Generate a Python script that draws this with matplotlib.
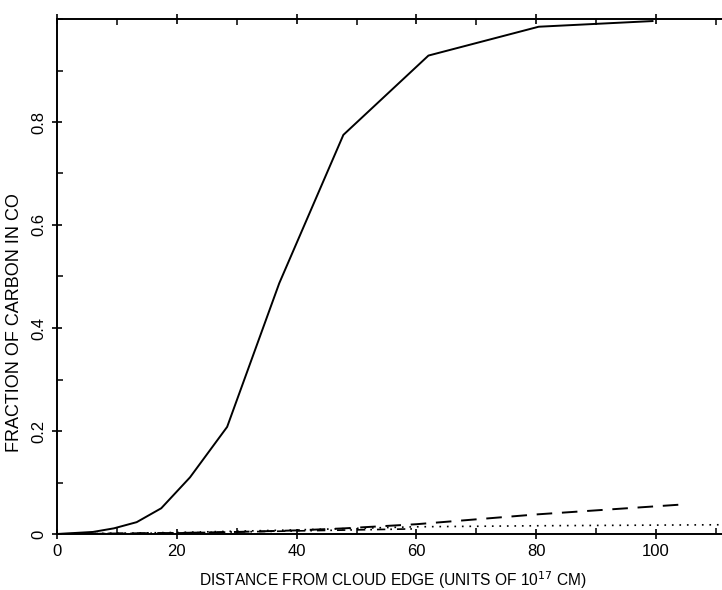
import numpy as np
import matplotlib
matplotlib.use('Agg')
import matplotlib.pyplot as plt
from matplotlib.ticker import MultipleLocator

# fraction of carbon in CO vs distance from cloud edge
x_solid = [0, 6.0, 9.5, 13.3, 17.4, 22.2, 28.4, 37.1, 47.8, 62.0, 80.4, 99.4]
y_solid = [0, 0.004, 0.011, 0.023, 0.050, 0.110, 0.208, 0.487, 0.775, 0.929, 0.985, 0.996]

x_dash = [0, 10, 20, 30, 40, 48, 60, 80, 104]
y_dash = [0, 0.001, 0.002, 0.004, 0.007, 0.011, 0.019, 0.038, 0.057]

x_dot = [0, 20, 40, 60, 80, 112]
y_dot = [0, 0.003, 0.008, 0.014, 0.016, 0.018]

x_dashdot = [0, 20, 40, 60]
y_dashdot = [0, 0.002, 0.006, 0.010]

xticks = [0, 20, 40, 60, 80, 100]
yticks = [0, 0.2, 0.4, 0.6, 0.8]

plt.rcParams['font.family'] = ['Liberation Sans', 'DejaVu Sans']

fig = plt.figure(figsize=(7.22, 5.90), dpi=100)
ax = fig.add_axes([57/722, 56/590, 671/722, 515/590])

ax.plot(x_solid, y_solid, '-', color='black', lw=1.4)
ax.plot(x_dash, y_dash, color='black', lw=1.4, dashes=(8, 5))
ax.plot(x_dot, y_dot, color='black', lw=1.2, dashes=(1, 3.5))
ax.plot(x_dashdot, y_dashdot, color='black', lw=1.2, dashes=(5, 3, 1, 3))

ax.set_xlim(0, 112)
ax.set_ylim(0, 1.0)
ax.set_xticks(xticks)
ax.set_yticks(yticks)
ax.set_yticklabels(['0', '0.2', '0.4', '0.6', '0.8'], rotation=90, va='center')
ax.xaxis.set_minor_locator(MultipleLocator(10))
ax.yaxis.set_minor_locator(MultipleLocator(0.1))

ax.tick_params(which='major', direction='inout', length=7, width=1.2,
               top=True, right=True, labelsize=12, pad=4)
ax.tick_params(which='minor', direction='in', length=4, width=1.1,
               top=True, right=True)
for s in ax.spines.values():
    s.set_linewidth(1.4)

ax.set_xlabel('DISTANCE FROM CLOUD EDGE (UNITS OF 10$^{17}$ CM)', fontsize=11.2, labelpad=7)
ax.set_ylabel('FRACTION OF CARBON IN CO', fontsize=13)
ax.yaxis.set_label_coords(-0.051, 0.41)

plt.savefig('out.png', dpi=100)
